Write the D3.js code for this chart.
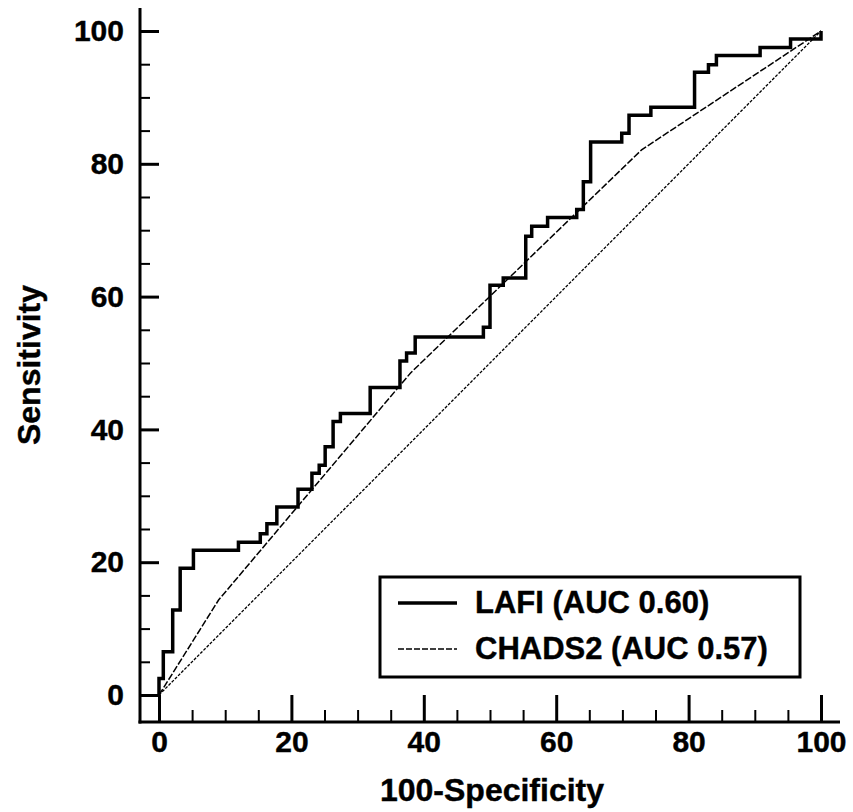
<!DOCTYPE html>
<html>
<head>
<meta charset="utf-8">
<script src="https://cdn.jsdelivr.net/npm/d3@7"></script>
<style>
  body { margin: 0; background: #fff; }
  text { font-family: "Liberation Sans", Arial, sans-serif; font-weight: bold; fill: #000;
    stroke: #000; stroke-width: 0.4px; }
</style>
</head>
<body>
<script>
// LAFI ROC points (100-specificity, sensitivity), step curve
const lafiFpr = [0, 0, 0.65, 2.07, 3.2, 5.2, 12.0, 15.3, 16.3, 17.8, 21.0, 23.1, 24.2, 25.1, 26.3,
  27.4, 31.9, 36.4, 37.4, 38.7, 49.0, 50.0, 52.0, 55.4, 56.3, 58.7, 63.1, 64.1, 65.2, 69.9,
  71.0, 74.3, 80.9, 83.0, 84.2, 90.8, 95.4, 100];
const lafiTpr = [0, 2.5, 6.5, 12.8, 19.1, 21.8, 23.0, 24.3, 25.8, 28.3, 31.0, 33.4, 34.6, 37.4, 41.2,
  42.4, 46.3, 50.3, 51.5, 53.9, 55.4, 61.7, 62.8, 69.1, 70.6, 71.9, 73.1, 77.3, 83.3, 84.6,
  87.3, 88.5, 93.8, 94.9, 96.3, 97.5, 98.8, 100];

// CHADS2 ROC points
const chadsFpr = [0, 9.0, 38.0, 72.9, 100];
const chadsTpr = [0, 14.3, 48.5, 82.1, 100];

const majorTicks = [0, 20, 40, 60, 80, 100];
const minorTicks = d3.range(0, 101, 5).filter((d) => d % 20 !== 0);

const legendLabels = ['LAFI (AUC 0.60)', 'CHADS2 (AUC 0.57)'];

const width = 853, height = 812;
const axisX = 140, axisY = 722;

let svg = d3.select('body')
  .append('svg')
  .attr('width', width)
  .attr('height', height);

let x = d3.scaleLinear().domain([0, 100]).range([159, 821]);
let y = d3.scaleLinear().domain([0, 100]).range([695, 31]);

// x axis
let gx = svg.append('g').attr('transform', `translate(0, ${axisY})`);
gx.append('g')
  .call(d3.axisBottom(x).tickValues(minorTicks).tickSize(-12).tickSizeOuter(0).tickFormat(''))
  .call((g) => g.select('.domain').remove())
  .selectAll('line').attr('stroke-width', 2);
gx.append('g')
  .call(d3.axisBottom(x).tickValues(majorTicks).tickSize(-27).tickSizeOuter(0).tickPadding(9))
  .call((g) => g.select('.domain').remove())
  .call((g) => g.selectAll('line').attr('stroke-width', 3))
  .call((g) => g.selectAll('text').attr('font-size', 30).attr('font-family', null));
gx.append('line')
  .attr('x1', axisX - 1.5).attr('x2', 840)
  .attr('stroke', '#000').attr('stroke-width', 3);

// y axis
let gy = svg.append('g').attr('transform', `translate(${axisX}, 0)`);
gy.append('g')
  .call(d3.axisLeft(y).tickValues(minorTicks).tickSize(-10).tickSizeOuter(0).tickFormat(''))
  .call((g) => g.select('.domain').remove())
  .selectAll('line').attr('stroke-width', 2);
gy.append('g')
  .call(d3.axisLeft(y).tickValues(majorTicks).tickSize(-19).tickSizeOuter(0).tickPadding(16))
  .call((g) => g.select('.domain').remove())
  .call((g) => g.selectAll('line').attr('stroke-width', 3))
  .call((g) => g.selectAll('text').attr('font-size', 30).attr('font-family', null));
gy.append('line')
  .attr('y1', 8).attr('y2', axisY + 1.5)
  .attr('stroke', '#000').attr('stroke-width', 3);

// axis titles
svg.append('text')
  .attr('x', 492).attr('y', 801)
  .attr('text-anchor', 'middle')
  .attr('font-size', 32)
  .text('100-Specificity');

svg.append('text')
  .attr('transform', 'translate(40, 365) rotate(-90)')
  .attr('text-anchor', 'middle')
  .attr('font-size', 32)
  .text('Sensitivity');

// diagonal reference
svg.append('line')
  .attr('x1', x(0)).attr('y1', y(0))
  .attr('x2', x(100)).attr('y2', y(100))
  .attr('stroke', '#000').attr('stroke-width', 1.3)
  .attr('stroke-dasharray', '3,1.5');

let line = d3.line()
  .x((d) => x(d[0]))
  .y((d) => y(d[1]));

// CHADS2 curve
svg.append('path')
  .datum(d3.zip(chadsFpr, chadsTpr))
  .attr('d', line)
  .attr('fill', 'none')
  .attr('stroke', '#000')
  .attr('stroke-width', 1.5)
  .attr('stroke-dasharray', '7,2');

// LAFI curve
svg.append('path')
  .datum(d3.zip(lafiFpr, lafiTpr))
  .attr('d', line.curve(d3.curveStepAfter))
  .attr('fill', 'none')
  .attr('stroke', '#000')
  .attr('stroke-width', 3.5)
  .attr('stroke-linejoin', 'miter');

// legend
let legend = svg.append('g');
legend.append('rect')
  .attr('x', 380).attr('y', 577)
  .attr('width', 420).attr('height', 100)
  .attr('fill', '#fff')
  .attr('stroke', '#000').attr('stroke-width', 3);

legend.selectAll('.legend-line')
  .data(legendLabels)
  .enter()
  .append('line')
  .attr('class', 'legend-line')
  .attr('x1', 398).attr('x2', 457)
  .attr('y1', (d, i) => 603 + i * 46)
  .attr('y2', (d, i) => 603 + i * 46)
  .attr('stroke', '#000')
  .attr('stroke-width', (d, i) => i === 0 ? 3.5 : 1.5)
  .attr('stroke-dasharray', (d, i) => i === 0 ? null : '6,2');

legend.selectAll('.legend-text')
  .data(legendLabels)
  .enter()
  .append('text')
  .attr('class', 'legend-text')
  .attr('x', 475)
  .attr('y', (d, i) => 613 + i * 46)
  .attr('font-size', 31)
  .text((d) => d);
</script>
</body>
</html>
